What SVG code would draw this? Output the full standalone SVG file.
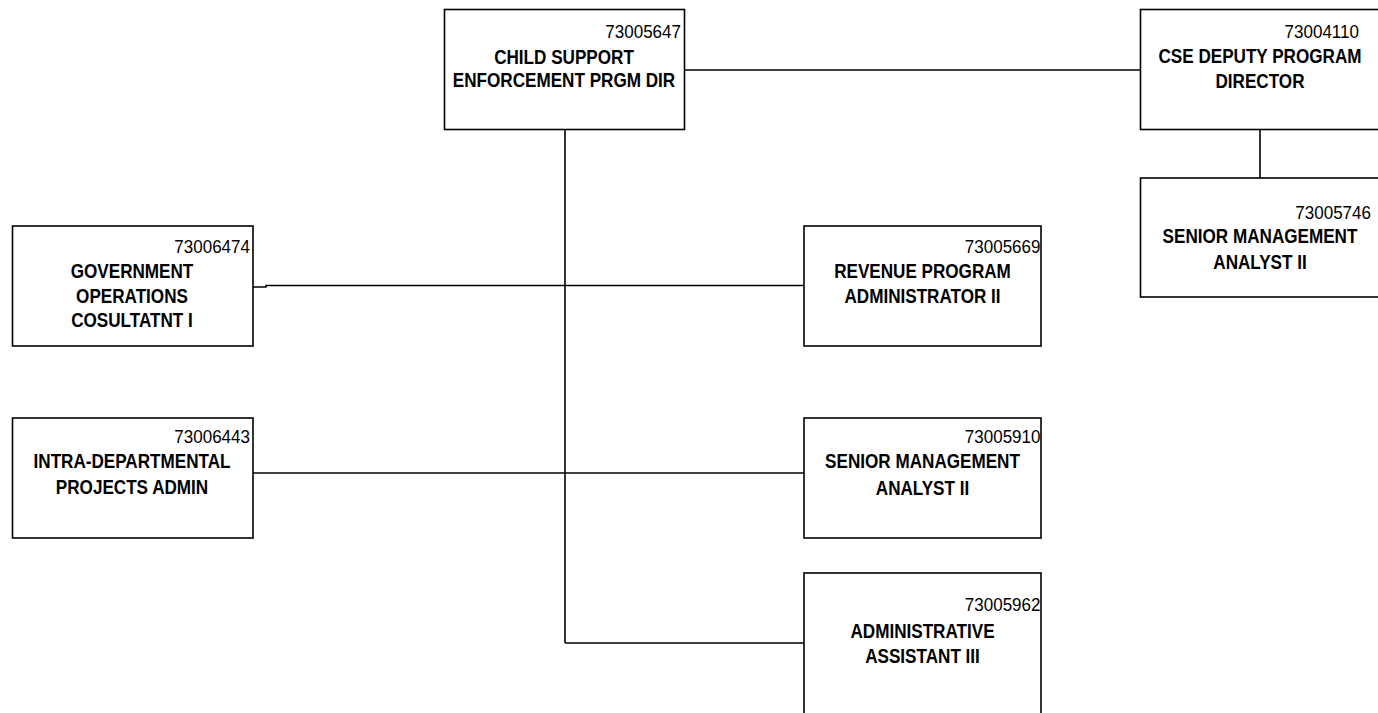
<svg xmlns="http://www.w3.org/2000/svg" width="1378" height="713" viewBox="0 0 1378 713">
  <style>
    .box { fill: #ffffff; stroke: #000000; stroke-width: 1.6; }
    .link { fill: none; stroke: #000000; stroke-width: 1.6; }
    /* position numbers and captions are squeezed horizontally via transform on each line */
    .num { font-family: "Liberation Sans", Arial, sans-serif; font-size: 18.5px; fill: #000000; text-anchor: end; }
    .title { font-family: "Liberation Sans", Arial, sans-serif; font-weight: bold; font-size: 21px; fill: #000000; text-anchor: middle; }
  </style>
  <rect width="1378" height="713" fill="#ffffff"/>

  <!-- reporting lines -->
  <g id="connectors">
    <line class="link" x1="684" y1="70" x2="1140" y2="70"/>
    <line class="link" x1="1260" y1="129" x2="1260" y2="178"/>
    <line class="link" x1="565" y1="129" x2="565" y2="643"/>
    <polyline class="link" points="253,287 266,287 266,285.5 804,285.5"/>
    <line class="link" x1="253" y1="473" x2="804" y2="473"/>
    <line class="link" x1="565" y1="643" x2="804" y2="643"/>
  </g>

  <g id="node-73005647">
    <rect class="box" x="444.5" y="9.5" width="240" height="120"/>
    <text class="num" transform="translate(681 38) scale(0.92 1)">73005647</text>
    <text class="title" transform="translate(564 63.5) scale(0.815 1)">CHILD SUPPORT</text>
    <text class="title" transform="translate(564 87) scale(0.815 1)">ENFORCEMENT PRGM DIR</text>
  </g>

  <g id="node-73004110">
    <rect class="box" x="1140.5" y="9.5" width="240" height="120"/>
    <text class="num" transform="translate(1359 38) scale(0.92 1)">73004110</text>
    <text class="title" transform="translate(1260 63) scale(0.815 1)">CSE DEPUTY PROGRAM</text>
    <text class="title" transform="translate(1260 88) scale(0.815 1)">DIRECTOR</text>
  </g>

  <g id="node-73005746">
    <rect class="box" x="1140.5" y="178" width="240" height="119"/>
    <text class="num" transform="translate(1371 218.5) scale(0.92 1)">73005746</text>
    <text class="title" transform="translate(1260 243) scale(0.815 1)">SENIOR MANAGEMENT</text>
    <text class="title" transform="translate(1260 269) scale(0.815 1)">ANALYST II</text>
  </g>

  <g id="node-73006474">
    <rect class="box" x="12.5" y="226" width="240.5" height="120"/>
    <text class="num" transform="translate(250 252.5) scale(0.92 1)">73006474</text>
    <text class="title" transform="translate(132 278) scale(0.815 1)">GOVERNMENT</text>
    <text class="title" transform="translate(132 302.5) scale(0.815 1)">OPERATIONS</text>
    <text class="title" transform="translate(132 327) scale(0.815 1)">COSULTATNT I</text>
  </g>

  <g id="node-73005669">
    <rect class="box" x="804" y="226" width="237" height="120"/>
    <text class="num" transform="translate(1040.5 252.5) scale(0.92 1)">73005669</text>
    <text class="title" transform="translate(922.5 277.5) scale(0.815 1)">REVENUE PROGRAM</text>
    <text class="title" transform="translate(922.5 303) scale(0.815 1)">ADMINISTRATOR II</text>
  </g>

  <g id="node-73006443">
    <rect class="box" x="12.5" y="418" width="240.5" height="120"/>
    <text class="num" transform="translate(250 442.5) scale(0.92 1)">73006443</text>
    <text class="title" transform="translate(132 468) scale(0.815 1)">INTRA-DEPARTMENTAL</text>
    <text class="title" transform="translate(132 494) scale(0.815 1)">PROJECTS ADMIN</text>
  </g>

  <g id="node-73005910">
    <rect class="box" x="804" y="418" width="237" height="120"/>
    <text class="num" transform="translate(1040.5 442.5) scale(0.92 1)">73005910</text>
    <text class="title" transform="translate(922.5 468) scale(0.815 1)">SENIOR MANAGEMENT</text>
    <text class="title" transform="translate(922.5 494.5) scale(0.815 1)">ANALYST II</text>
  </g>

  <g id="node-73005962">
    <rect class="box" x="804" y="573" width="237" height="150"/>
    <text class="num" transform="translate(1040.5 610.5) scale(0.92 1)">73005962</text>
    <text class="title" transform="translate(922.5 638) scale(0.815 1)">ADMINISTRATIVE</text>
    <text class="title" transform="translate(922.5 663) scale(0.815 1)">ASSISTANT III</text>
  </g>
</svg>
